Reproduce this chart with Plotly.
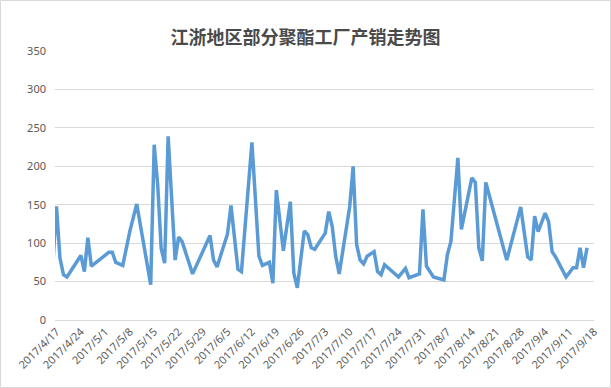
import plotly.graph_objects as go

dates = [
    "2017-04-16", "2017-04-17", "2017-04-18", "2017-04-19", "2017-04-20",
    "2017-04-24", "2017-04-25", "2017-04-26", "2017-04-27", "2017-05-02",
    "2017-05-03", "2017-05-04", "2017-05-06", "2017-05-08", "2017-05-10",
    "2017-05-14", "2017-05-15", "2017-05-16", "2017-05-17", "2017-05-18",
    "2017-05-19", "2017-05-21", "2017-05-22", "2017-05-23", "2017-05-26",
    "2017-05-31", "2017-06-01", "2017-06-02", "2017-06-05", "2017-06-06",
    "2017-06-08", "2017-06-09", "2017-06-12", "2017-06-14", "2017-06-15",
    "2017-06-17", "2017-06-18", "2017-06-19", "2017-06-21", "2017-06-23",
    "2017-06-24", "2017-06-25", "2017-06-27", "2017-06-28", "2017-06-29",
    "2017-06-30", "2017-07-03", "2017-07-04", "2017-07-05", "2017-07-06",
    "2017-07-07", "2017-07-10", "2017-07-11", "2017-07-12", "2017-07-13",
    "2017-07-14", "2017-07-15", "2017-07-17", "2017-07-18", "2017-07-19",
    "2017-07-20", "2017-07-24", "2017-07-26", "2017-07-27", "2017-07-30",
    "2017-07-31", "2017-08-01", "2017-08-03", "2017-08-06", "2017-08-07",
    "2017-08-08", "2017-08-10", "2017-08-11", "2017-08-14", "2017-08-15",
    "2017-08-16", "2017-08-17", "2017-08-18", "2017-08-24", "2017-08-28",
    "2017-08-30", "2017-08-31", "2017-09-01", "2017-09-02", "2017-09-04",
    "2017-09-05", "2017-09-06", "2017-09-07", "2017-09-10", "2017-09-12",
    "2017-09-13", "2017-09-14", "2017-09-15", "2017-09-16",
]
values = [
    74, 148, 81, 59, 56,
    84, 63, 107, 70, 88,
    88, 75, 71, 115, 151,
    46, 228, 176, 93, 74,
    239, 78, 108, 102, 60,
    110, 78, 69, 112, 149,
    66, 63, 231, 83, 71,
    75, 48, 169, 90, 154,
    61, 42, 116, 111, 94,
    92, 113, 141, 122, 83,
    60, 147, 200, 98, 78,
    73, 83, 89, 63, 59,
    72, 56, 67, 55, 60,
    144, 70, 56, 52, 85,
    102, 211, 118, 185, 179,
    94, 77, 179, 78, 147,
    82, 78, 135, 115, 139,
    128, 89, 82, 56, 68,
    68, 94, 68, 94,
]

tick_dates = [
    "2017-04-17", "2017-04-24", "2017-05-01", "2017-05-08", "2017-05-15",
    "2017-05-22", "2017-05-29", "2017-06-05", "2017-06-12", "2017-06-19",
    "2017-06-26", "2017-07-03", "2017-07-10", "2017-07-17", "2017-07-24",
    "2017-07-31", "2017-08-07", "2017-08-14", "2017-08-21", "2017-08-28",
    "2017-09-04", "2017-09-11", "2017-09-18",
]
tick_labels = [
    "2017/4/17", "2017/4/24", "2017/5/1", "2017/5/8", "2017/5/15",
    "2017/5/22", "2017/5/29", "2017/6/5", "2017/6/12", "2017/6/19",
    "2017/6/26", "2017/7/3", "2017/7/10", "2017/7/17", "2017/7/24",
    "2017/7/31", "2017/8/7", "2017/8/14", "2017/8/21", "2017/8/28",
    "2017/9/4", "2017/9/11", "2017/9/18",
]

title_text = "江浙地区部分聚酯工厂产销走势图"

W, H = 611, 388
ML, MR, MT, MB = 55, 17, 51, 68
pw = W - ML - MR
ph = H - MT - MB

fig = go.Figure()
fig.add_trace(go.Scatter(
    x=dates, y=values, mode="lines",
    line=dict(color="#5B9BD5", width=3.5),
    hoverinfo="x+y", showlegend=False,
))

fig.update_layout(
    width=W, height=H,
    margin=dict(l=ML, r=MR, t=MT, b=MB, pad=0),
    paper_bgcolor="white", plot_bgcolor="white",
    title=dict(
        text=title_text, x=0.5, xanchor="center",
        y=1 - 38 / H, yanchor="middle", yref="container",
        font=dict(family="Noto Sans CJK SC", size=18, color="#4a4a4a",
                  weight="bold"),
    ),
    font=dict(family="Noto Sans, Liberation Sans", size=11, color="#595959"),
    xaxis=dict(
        type="date",
        range=["2017-04-16 14:00", "2017-09-18 00:00"],
        tickmode="array", tickvals=tick_dates, ticktext=tick_labels,
        tickangle=-45, showgrid=False, zeroline=False,
        showline=True, linecolor="#D9D9D9", linewidth=1,
        ticks="", tickfont=dict(size=11, color="#595959"),
    ),
    yaxis=dict(
        range=[0, 350], dtick=50, tick0=0,
        showgrid=True, gridcolor="#D9D9D9", gridwidth=1,
        zeroline=False, showline=False, ticks="",
        ticklabelstandoff=8,
        tickfont=dict(size=11, color="#595959"),
    ),
    shapes=[dict(
        type="rect", xref="paper", yref="paper",
        x0=-(ML - 0.5) / pw, x1=1 + (MR - 0.5) / pw,
        y0=-(MB - 0.5) / ph, y1=1 + (MT - 0.5) / ph,
        line=dict(color="#D9D9D9", width=1), fillcolor="rgba(0,0,0,0)",
        layer="below",
    )],
)

fig.write_html(
    "out.html",
    config={"displayModeBar": False},
    post_script="document.body.style.margin='0';document.body.style.overflow='hidden';",
)
